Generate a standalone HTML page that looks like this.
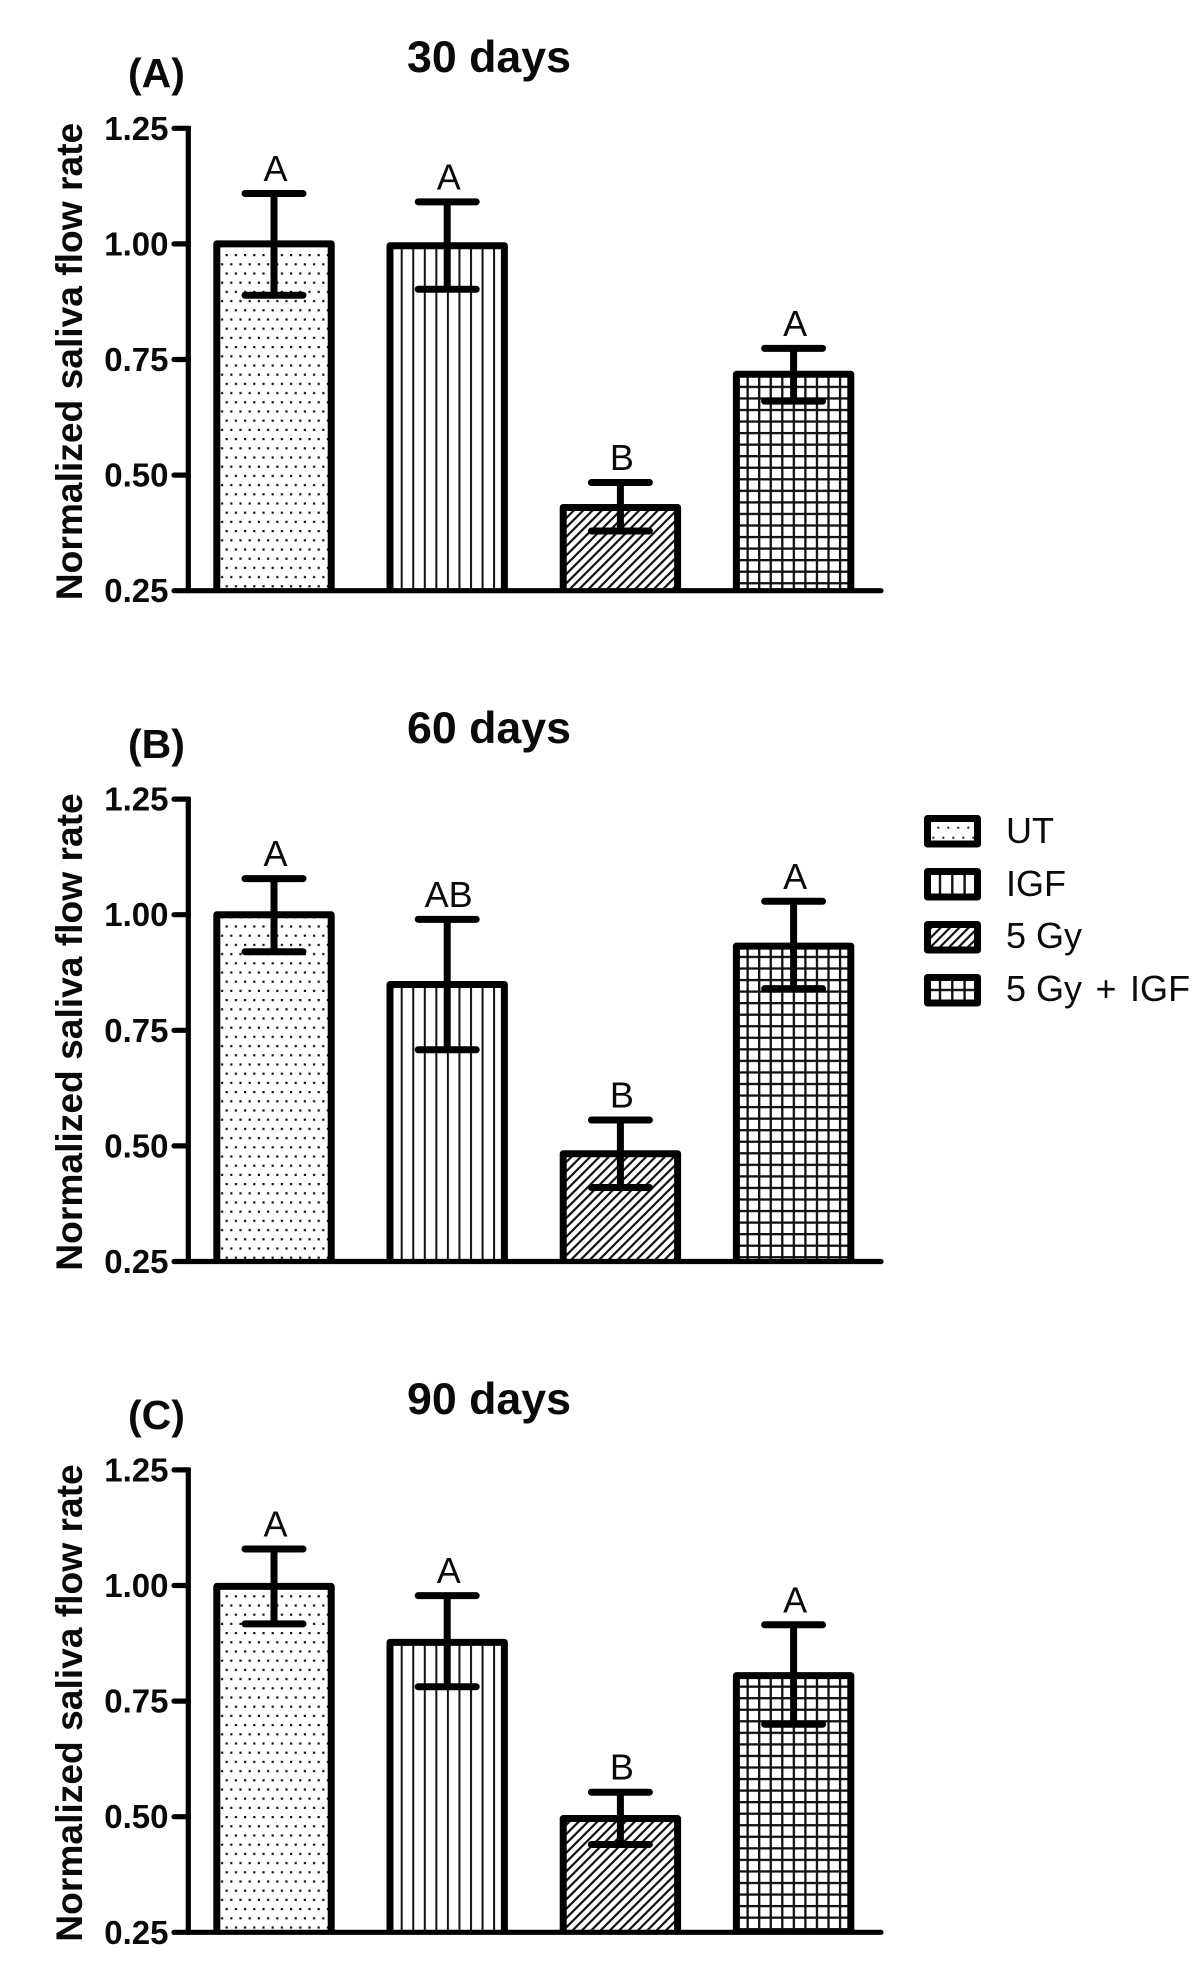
<!DOCTYPE html>
<html lang="en">
<head>
<meta charset="utf-8">
<title>Normalized saliva flow rate</title>
<style>
html,body{margin:0;padding:0;background:#fff;}
svg{display:block;}
text{font-family:"Liberation Sans",sans-serif;fill:#0a0a0a;}
.title{font-size:44.7px;font-weight:bold;}
.plabel{font-size:41px;font-weight:bold;}
.ytitle{font-size:37.2px;font-weight:bold;}
.tick{font-size:33px;font-weight:bold;text-anchor:end;}
.sig{font-size:36px;text-anchor:middle;}
.leg{font-size:36px;}
</style>
</head>
<body>
<svg id="chart" xmlns="http://www.w3.org/2000/svg" width="1200" height="1975" viewBox="0 0 1200 1975">
<defs>
  <pattern id="pat-ut-a" patternUnits="userSpaceOnUse" x="225.6" y="585.2" width="9.2" height="18.4">
    <rect width="9.2" height="18.4" fill="#fff"/>
    <rect x="0" y="0" width="2.2" height="2.2" fill="#111"/>
    <rect x="4.6" y="9.2" width="2.2" height="2.2" fill="#111"/>
  </pattern>
  <pattern id="pat-ut-b" patternUnits="userSpaceOnUse" x="225.6" y="1256.6" width="9.2" height="18.4">
    <rect width="9.2" height="18.4" fill="#fff"/>
    <rect x="0" y="0" width="2.2" height="2.2" fill="#111"/>
    <rect x="4.6" y="9.2" width="2.2" height="2.2" fill="#111"/>
  </pattern>
  <pattern id="pat-ut-c" patternUnits="userSpaceOnUse" x="225.6" y="1705.6" width="9.2" height="18.4">
    <rect width="9.2" height="18.4" fill="#fff"/>
    <rect x="0" y="0" width="2.2" height="2.2" fill="#111"/>
    <rect x="4.6" y="9.2" width="2.2" height="2.2" fill="#111"/>
  </pattern>
  <pattern id="pat-igf" patternUnits="userSpaceOnUse" x="400.7" y="0" width="11.55" height="20">
    <rect width="11.55" height="20" fill="#fff"/>
    <rect x="0" y="0" width="2" height="20" fill="#111"/>
  </pattern>
  <pattern id="pat-gy" patternUnits="userSpaceOnUse" width="6.6" height="6.6" patternTransform="rotate(45)">
    <rect width="6.6" height="6.6" fill="#fff"/>
    <rect x="0" y="0" width="2.2" height="6.6" fill="#111"/>
  </pattern>
  <pattern id="pat-both-a" patternUnits="userSpaceOnUse" x="746.5" y="582.1" width="11.55" height="11.55">
    <rect width="11.55" height="11.55" fill="#fff"/>
    <rect x="0" y="0" width="2.3" height="11.55" fill="#111"/>
    <rect x="0" y="0" width="11.55" height="2.3" fill="#111"/>
  </pattern>
  <pattern id="pat-both-b" patternUnits="userSpaceOnUse" x="746.5" y="1256.1" width="11.55" height="11.55">
    <rect width="11.55" height="11.55" fill="#fff"/>
    <rect x="0" y="0" width="2.3" height="11.55" fill="#111"/>
    <rect x="0" y="0" width="11.55" height="2.3" fill="#111"/>
  </pattern>
  <pattern id="pat-both-c" patternUnits="userSpaceOnUse" x="746.5" y="1916.5" width="11.55" height="11.55">
    <rect width="11.55" height="11.55" fill="#fff"/>
    <rect x="0" y="0" width="2.3" height="11.55" fill="#111"/>
    <rect x="0" y="0" width="11.55" height="2.3" fill="#111"/>
  </pattern>
  <pattern id="leg-ut" patternUnits="userSpaceOnUse" x="937.3" y="826.7" width="10" height="20">
    <rect width="10" height="20" fill="#fff"/>
    <rect x="0" y="0" width="2" height="2" fill="#222"/>
    <rect x="5" y="10" width="2" height="2" fill="#222"/>
  </pattern>
  <pattern id="leg-igf" patternUnits="userSpaceOnUse" x="938.8" y="0" width="12.3" height="20">
    <rect width="12.3" height="20" fill="#fff"/>
    <rect x="0" y="0" width="2.4" height="20" fill="#111"/>
  </pattern>
  <pattern id="leg-both" patternUnits="userSpaceOnUse" x="938.8" y="988.8" width="12.3" height="12.3">
    <rect width="12.3" height="12.3" fill="#fff"/>
    <rect x="0" y="0" width="2.4" height="12.3" fill="#111"/>
    <rect x="0" y="0" width="12.3" height="2.4" fill="#111"/>
  </pattern>
</defs>

<g>
  <text class="title" x="407" y="72">30 days</text>
  <text class="plabel" x="128" y="87">(A)</text>
  <text class="ytitle" transform="translate(82,361.5) rotate(-90)" text-anchor="middle">Normalized saliva flow rate</text>
</g>
<g>
  <text class="title" x="407" y="743">60 days</text>
  <text class="plabel" x="128" y="758">(B)</text>
  <text class="ytitle" transform="translate(82,1032) rotate(-90)" text-anchor="middle">Normalized saliva flow rate</text>
</g>
<g>
  <text class="title" x="407" y="1414">90 days</text>
  <text class="plabel" x="128" y="1429">(C)</text>
  <text class="ytitle" transform="translate(82,1703) rotate(-90)" text-anchor="middle">Normalized saliva flow rate</text>
</g>

<g>
  <g>
    <rect x="927.5" y="818.5" width="50" height="25.5" fill="url(#leg-ut)" stroke="#000" stroke-width="7" stroke-linejoin="round"/>
    <text class="leg" x="1006" y="843">UT</text>
  </g>
  <g>
    <rect x="927.5" y="871.5" width="50" height="25.5" fill="url(#leg-igf)" stroke="#000" stroke-width="7" stroke-linejoin="round"/>
    <text class="leg" x="1006" y="896">IGF</text>
  </g>
  <g>
    <rect x="927.5" y="924.5" width="50" height="25.5" fill="url(#pat-gy)" stroke="#000" stroke-width="7" stroke-linejoin="round"/>
    <text class="leg" x="1006" y="948">5 Gy</text>
  </g>
  <g>
    <rect x="927.5" y="977.5" width="50" height="25.5" fill="url(#leg-both)" stroke="#000" stroke-width="7" stroke-linejoin="round"/>
    <text class="leg" x="1006" y="1001">5 Gy<tspan word-spacing="3.5"> + IGF</tspan></text>
  </g>
</g>
</svg>

<script>
const categories = ['UT', 'IGF', '5 Gy', '5 Gy + IGF'];
const panelKeys = ['a', 'b', 'c'];
const tickLabels = ['0.25', '0.50', '0.75', '1.00', '1.25'];

const meansA = [1.00, 0.996, 0.43, 0.718];
const upperA = [1.109, 1.091, 0.484, 0.774];
const lowerA = [0.889, 0.902, 0.379, 0.66];
const lettersA = ['A', 'A', 'B', 'A'];

const meansB = [1.00, 0.849, 0.483, 0.932];
const upperB = [1.078, 0.99, 0.556, 1.029];
const lowerB = [0.92, 0.708, 0.41, 0.84];
const lettersB = ['A', 'AB', 'B', 'A'];

const meansC = [0.998, 0.877, 0.496, 0.805];
const upperC = [1.079, 0.978, 0.553, 0.915];
const lowerC = [0.917, 0.781, 0.44, 0.70];
const lettersC = ['A', 'A', 'B', 'A'];

const allMeans = [meansA, meansB, meansC];
const allUpper = [upperA, upperB, upperC];
const allLower = [lowerA, lowerB, lowerC];
const allLetters = [lettersA, lettersB, lettersC];

const NS = 'http://www.w3.org/2000/svg';
const svg = document.getElementById('chart');

function baseY(p) { return 590.7 + 670.8 * p; }
function yScale(p, v) { return baseY(p) - (v - 0.25) * 462.4; }
function xScale(i) { return 274 + 173.2 * i; }
function patternFor(i, key) {
  if (i === 0) return 'pat-ut-' + key;
  if (i === 1) return 'pat-igf';
  if (i === 2) return 'pat-gy';
  return 'pat-both-' + key;
}

function make(tag, attrs, parent) {
  const el = document.createElementNS(NS, tag);
  for (const k in attrs) el.setAttribute(k, attrs[k]);
  parent.appendChild(el);
  return el;
}

const HALF_BAR = 57.2;
const CAP = 29;
const AXIS_X = 188.3;

panelKeys.forEach(function (key, p) {
  const g = make('g', {}, svg);
  
  

  categories.forEach(function (cat, i) {
    const slug = cat.toLowerCase().replace(/[^a-z0-9]+/g, '-');
    const x = xScale(i);
    const top = yScale(p, allMeans[p][i]);
    const up = yScale(p, allUpper[p][i]);
    const lo = yScale(p, allLower[p][i]);
    const base = baseY(p);

    const bar = make('path', {
      d: 'M' + (x - HALF_BAR) + ' ' + base + 'V' + top + 'H' + (x + HALF_BAR) + 'V' + base + 'Z',
      fill: 'url(#' + patternFor(i, key) + ')',
      stroke: 'none'
    }, g);
    
    

    const outline = make('path', {
      d: 'M' + (x - HALF_BAR) + ' ' + base + 'V' + top + 'H' + (x + HALF_BAR) + 'V' + base,
      fill: 'none',
      stroke: '#000',
      'stroke-width': 7,
      'stroke-linejoin': 'round'
    }, g);
    
    

    const err = make('path', {
      d: 'M' + x + ' ' + up + 'V' + lo +
         'M' + (x - CAP) + ' ' + up + 'H' + (x + CAP) +
         'M' + (x - CAP) + ' ' + lo + 'H' + (x + CAP),
      fill: 'none',
      stroke: '#000',
      'stroke-width': 7,
      'stroke-linecap': 'round'
    }, g);
    
    

    const sig = make('text', { class: 'sig', x: x + 1.5, y: up - 12.5 }, g);
    sig.textContent = allLetters[p][i];
    
    
  });

  const axisGroup = make('g', {}, g);
  
  

  const top = yScale(p, Number(tickLabels[tickLabels.length - 1]));
  const yAxis = make('path', {
    d: 'M' + AXIS_X + ' ' + (top - 2.4) + 'V' + baseY(p),
    fill: 'none', stroke: '#000', 'stroke-width': 5.2
  }, axisGroup);
  
  

  const xAxis = make('path', {
    d: 'M' + AXIS_X + ' ' + baseY(p) + 'H881',
    fill: 'none', stroke: '#000', 'stroke-width': 5.2, 'stroke-linecap': 'round'
  }, axisGroup);
  
  

  tickLabels.forEach(function (label) {
    const y = yScale(p, Number(label));
    const tick = make('path', {
      d: 'M174 ' + y + 'H' + AXIS_X,
      fill: 'none', stroke: '#000', 'stroke-width': 5.2, 'stroke-linecap': 'round'
    }, axisGroup);
    
    

    const t = make('text', { class: 'tick', x: 168.5, y: y + 11.5 }, axisGroup);
    t.textContent = label;
    
    
  });
});
</script>
</body>
</html>
